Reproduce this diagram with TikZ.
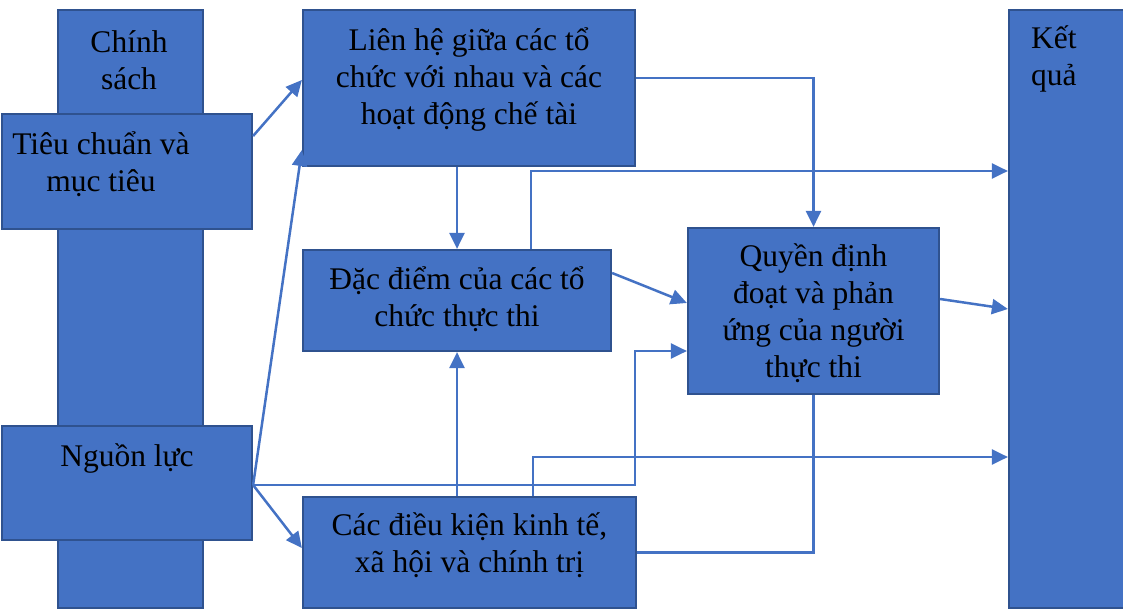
\documentclass[tikz,border=0pt]{standalone}
\usepackage{fontspec}
\setmainfont{Liberation Serif}
\usetikzlibrary{arrows.meta}
\definecolor{boxfill}{HTML}{4472C4}
\definecolor{boxline}{HTML}{2F528F}
\definecolor{flowline}{HTML}{4472C4}
\tikzset{
  box/.style={draw=boxline, fill=boxfill, line width=2.2pt, inner sep=0pt},
  boxtext/.style={font=\fontsize{31.5}{37}\selectfont, align=center, inner sep=0pt},
  flow/.style={-{Triangle[length=16pt,width=15pt]}, draw=flowline, line width=2.5pt},
  link/.style={draw=flowline, line width=2.5pt}
}

\begin{document}
\begin{tikzpicture}[x=1pt,y=-1pt]
  \useasboundingbox (0,0) rectangle (1123,609);

  % left column and its two boxes
  \node[box, minimum width=145, minimum height=598] (chinhsach) at (130.5,309) {};
  \node[boxtext] (chinhsach-t) at (129,60) {Chính\\sách};
  \node[box, minimum width=250, minimum height=115] (tieuchuan) at (127,171.5) {};
  \node[boxtext] (tieuchuan-t) at (101,164) {Tiêu chuẩn và\\mục tiêu};
  \node[box, minimum width=250, minimum height=114] (nguonluc) at (127,483) {};
  \node[boxtext] (nguonluc-t) at (127,458) {Nguồn lực};

  % middle boxes
  \node[box, minimum width=332, minimum height=156] (lienhe) at (469,88) {};
  \node[boxtext] (lienhe-t) at (469,79) {Liên hệ giữa các tổ\\chức với nhau và các\\hoạt động chế tài};
  \node[box, minimum width=308, minimum height=101] (dacdiem) at (457,300.5) {};
  \node[boxtext] (dacdiem-t) at (457,299) {Đặc điểm của các tổ\\chức thực thi};
  \node[box, minimum width=333, minimum height=111] (dieukien) at (469.5,552.5) {};
  \node[boxtext] (dieukien-t) at (469.5,545) {Các điều kiện kinh tế,\\xã hội và chính trị};
  \node[box, minimum width=251, minimum height=166] (quyen) at (813.5,311) {};
  \node[boxtext] (quyen-t) at (813.5,313) {Quyền định\\đoạt và phản\\ứng của người\\thực thi};

  % right column
  \node[box, minimum width=121, minimum height=598] (ketqua) at (1069.5,309) {};
  \node[boxtext, align=left, anchor=west] (ketqua-t) at (1031,59) {Kết\\quả};

  % connectors
  \coordinate (src) at ([yshift=-2pt]nguonluc.east);
  \draw[flow] ([yshift=35.5pt]tieuchuan.east) -- ([yshift=8pt]lienhe.west);
  \draw[flow] (src) -- ([yshift=-62pt]lienhe.west);
  \draw[flow] (src) -- ([yshift=4.5pt]dieukien.west);
  \draw[flow] (src) -- ++(382,0) |- ([yshift=-40pt]quyen.west);
  \draw[flow] (lienhe.south -| dacdiem.north) -- (dacdiem.north);
  \draw[flow] (dieukien.north -| dacdiem.south) -- (dacdiem.south);
  \draw[flow] ([xshift=74pt]dacdiem.north) |- ([yshift=138pt]ketqua.west);
  \draw[flow] ([yshift=10pt]lienhe.east) -| (quyen.north);
  \draw[flow] ([yshift=27.5pt]dacdiem.east) -- ([yshift=8pt]quyen.west);
  \draw[flow] ([yshift=12pt]quyen.east) -- (ketqua.west);
  \draw[flow] ([xshift=63.5pt]dieukien.north) |- ([yshift=-148pt]ketqua.west);
  \draw[link] (quyen.south) |- (dieukien.east);
\end{tikzpicture}
\end{document}
